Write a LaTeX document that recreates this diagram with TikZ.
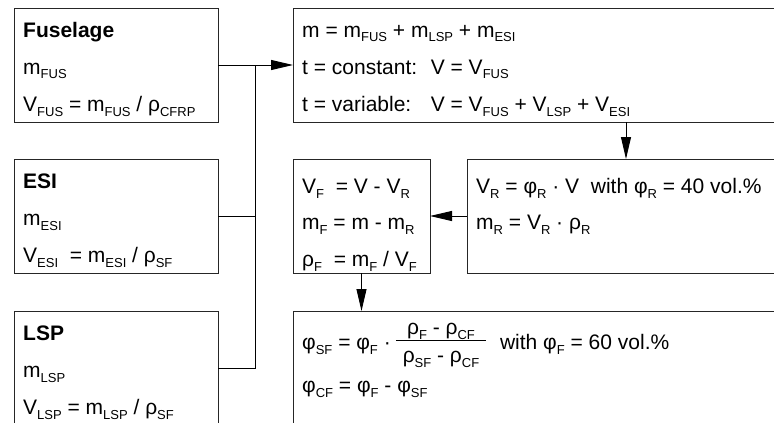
\documentclass[tikz,border=0pt]{standalone}
\usepackage{fontspec}
\setmainfont{Liberation Sans}
\usetikzlibrary{arrows.meta,calc}
\newdimen\fracw
\newcommand\ssub[1]{\lower5pt\hbox{\fontsize{13}{13}\selectfont #1}}
\newcommand\fracbox[2]{%
  \setbox0=\hbox{#1}\setbox2=\hbox{#2}%
  \fracw=\wd0 \ifdim\wd2>\fracw \fracw=\wd2 \fi
  \advance\fracw by 14pt
  \kern5pt
  \rlap{\raise14.5pt\hbox to\fracw{\hss\box0\hss}}%
  \rlap{\lower13pt\hbox to\fracw{\hss\box2\hss}}%
  \rule[8pt]{\fracw}{0.8pt}%
  \kern8pt}
\begin{document}
\begin{tikzpicture}[x=1pt,y=-1pt,
  box/.style={draw=black!85, line width=0.9pt, anchor=north west, inner sep=0pt, outer sep=0pt, minimum height=114pt},
  txt/.style={anchor=base west, inner sep=0pt, font=\fontsize{21}{21}\selectfont},
  hd/.style={txt, font=\fontsize{21}{21}\selectfont\bfseries},
  conn/.style={line width=0.9pt, draw=black},
  arr/.style={conn, -{Triangle[length=22pt,width=10pt]}}]
\useasboundingbox (0,0) rectangle (774,423);
\clip (0,0) rectangle (774,423);
\fill[white] (0,0) rectangle (774,423);
% boxes
\node[box, minimum width=204pt] (fus) at (14,8) {};
\node[box, minimum width=204pt] (esi) at (14,159) {};
\node[box, minimum width=204pt] (lsp) at (14,311) {};
\node[box, minimum width=500pt] (main) at (293,8) {};
\node[box, minimum width=137pt] (vf) at (293,159) {};
\node[box, minimum width=330pt] (vr) at (467,159) {};
\node[box, minimum width=500pt, minimum height=130pt] (bot) at (293,311) {};
% connectors
\coordinate (j) at ($(fus.east)!0.5!(fus.east -| main.west)$);
\draw[arr] (fus.east) -- (fus.east -| main.west);
\draw[conn] (esi.east) -| (j);
\draw[conn] (lsp.east) -| (j);
\coordinate (k) at ($(vr.north west)+(159,0)$);
\draw[arr] (main.south -| k) -- (k);
\draw[arr] (vr.west) -- (vf.east);
\draw[arr] (vf.south) -- (vf.south |- bot.north);
% texts
\node[hd] (fus1) at (23,37) {Fuselage};
\node[txt] (fus2) at (23,74) {m\ssub{FUS}};
\node[txt] (fus3) at (23,111) {V\ssub{FUS} = m\ssub{FUS} / ρ\ssub{CFRP}};
\node[hd] (esi1) at (23,188) {ESI};
\node[txt] (esi2) at (23,225) {m\ssub{ESI}};
\node[txt] (esi3) at (23,262) {V\ssub{ESI} \ = m\ssub{ESI} / ρ\ssub{SF}};
\node[hd] (lsp1) at (23,340) {LSP};
\node[txt] (lsp2) at (23,377) {m\ssub{LSP}};
\node[txt] (lsp3) at (23,414) {V\ssub{LSP} = m\ssub{LSP} / ρ\ssub{SF}};
\node[txt] (m1) at (302,37) {m = m\ssub{FUS} + m\ssub{LSP} + m\ssub{ESI}};
\node[txt] (m2) at (302,74) {t = constant: \ V = V\ssub{FUS}};
\node[txt] (m3) at (302,111) {t = variable: \ \ V = V\ssub{FUS} + V\ssub{LSP} + V\ssub{ESI}};
\node[txt] (vf1) at (302,193) {V\ssub{F} \ = V - V\ssub{R}};
\node[txt] (vf2) at (302,229) {m\ssub{F} = m - m\ssub{R}};
\node[txt] (vf3) at (302,266) {ρ\ssub{F} \ = m\ssub{F} / V\ssub{F}};
\node[txt] (vr1) at (476,193) {V\ssub{R} = φ\ssub{R} · V \ with φ\ssub{R} = 40 vol.\%};
\node[txt] (vr2) at (476,229) {m\ssub{R} = V\ssub{R} · ρ\ssub{R}};
\node[txt] (b1) at (302,349) {φ\ssub{SF} = φ\ssub{F} ·\fracbox{ρ\ssub{F} - ρ\ssub{CF}}{ρ\ssub{SF} - ρ\ssub{CF}} \ with φ\ssub{F} = 60 vol.\%};
\node[txt] (b2) at (302,392) {φ\ssub{CF} = φ\ssub{F} - φ\ssub{SF}};
\end{tikzpicture}
\end{document}
